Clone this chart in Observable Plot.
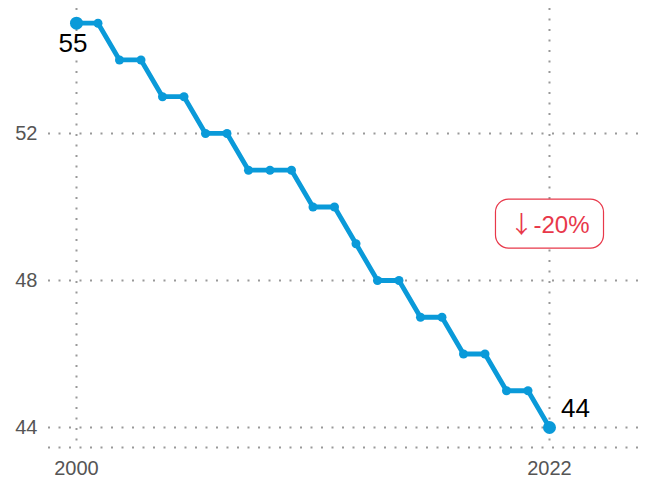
<!DOCTYPE html>
<html>
<head>
<meta charset="utf-8">
<script src="https://cdn.jsdelivr.net/npm/d3@7"></script>
<script src="https://cdn.jsdelivr.net/npm/@observablehq/plot@0.6"></script>
<style>
  html, body { margin: 0; padding: 0; background: #fff; }
  #chart { width: 645px; height: 478px; }
</style>
</head>
<body>
<div id="chart"></div>
<script>
// Data
const years = [2000, 2001, 2002, 2003, 2004, 2005, 2006, 2007, 2008, 2009, 2010, 2011,
               2012, 2013, 2014, 2015, 2016, 2017, 2018, 2019, 2020, 2021, 2022];
const values = [55, 55, 54, 54, 53, 53, 52, 52, 51, 51, 51, 50,
                50, 49, 48, 48, 47, 47, 46, 46, 45, 45, 44];
const xTicks = [2000, 2022];
const yTicks = [44, 48, 52];
const annotationArrow = ["↓"];
const annotationText = ["-20%"];
const annotationX = [2022];
const annotationY = [49.5];

const series = years.map((y, i) => ({year: y, value: values[i]}));
const first = [series[0]];
const last = [series[series.length - 1]];
const annotation = annotationText.map((t, i) => ({arrow: annotationArrow[i], text: t, x: annotationX[i], y: annotationY[i]}));

const blue = "#0a9ad9";
const red = "#e8384a";
const gridStyle = {stroke: "#999", strokeOpacity: 1, strokeWidth: 2, strokeDasharray: "2,8.5"};
const font = "Liberation Sans, Arial, Helvetica, sans-serif";

const yMin = 43.456, yMax = 55.4;

const svg = Plot.plot({
  width: 645,
  height: 478,
  marginLeft: 48,
  marginRight: 5,
  marginTop: 8,
  marginBottom: 31,
  style: {fontFamily: font, fontSize: "20px", color: "#555", background: "#fff"},
  x: {domain: [1998.698, 2026.233], ticks: xTicks, tickFormat: d => String(d), tickSize: 0, tickPadding: 13, label: null},
  y: {domain: [yMin, yMax], ticks: yTicks, tickSize: 0, tickPadding: 11, label: null},
  marks: [
    Plot.ruleY(yTicks, gridStyle),
    Plot.ruleY([yMin], gridStyle),
    Plot.ruleX(xTicks, gridStyle),
    Plot.line(series, {x: "year", y: "value", stroke: blue, strokeWidth: 4.8, curve: "linear"}),
    Plot.dot(series, {x: "year", y: "value", r: 4.5, fill: blue}),
    Plot.dot(first, {x: "year", y: "value", r: 6.5, fill: blue}),
    Plot.dot(last, {x: "year", y: "value", r: 6.5, fill: blue}),
    Plot.text(first, {x: "year", y: "value", text: d => String(d.value), dx: -3.5, dy: 20, fontSize: 26, fill: "#000", fontFamily: font}),
    Plot.text(last, {x: "year", y: "value", text: d => String(d.value), dx: 26, dy: -19, fontSize: 26, fill: "#000", fontFamily: font}),
    Plot.text(annotation, {x: "x", y: "y", text: d => d.arrow + " " + d.text, fontSize: 24, fill: red, fontFamily: font})
  ]
});

document.getElementById("chart").appendChild(svg);

// arrow in a taller glyph + rounded box around the annotation
d3.select(svg).selectAll("text").each(function() {
  if (this.textContent === annotation[0].arrow + " " + annotation[0].text) {
    const t = d3.select(this);
    t.text(null);
    t.append("tspan").attr("font-family", "Noto Sans CJK SC").text(annotation[0].arrow);
    t.append("tspan").text(annotation[0].text);
    const b = this.getBBox();
    const padX = 14, padY = 7;
    const r = d3.select(this.parentNode).insert("rect", () => this)
      .attr("x", b.x - padX)
      .attr("y", b.y - padY + 1)
      .attr("width", b.width + 2 * padX)
      .attr("height", b.height + 2 * padY)
      .attr("rx", 13).attr("ry", 13)
      .attr("fill", "#fff")
      .attr("stroke", red)
      .attr("stroke-width", 1.2);
    const tr = this.getAttribute("transform");
    if (tr) r.attr("transform", tr);
  }
});
</script>
</body>
</html>
